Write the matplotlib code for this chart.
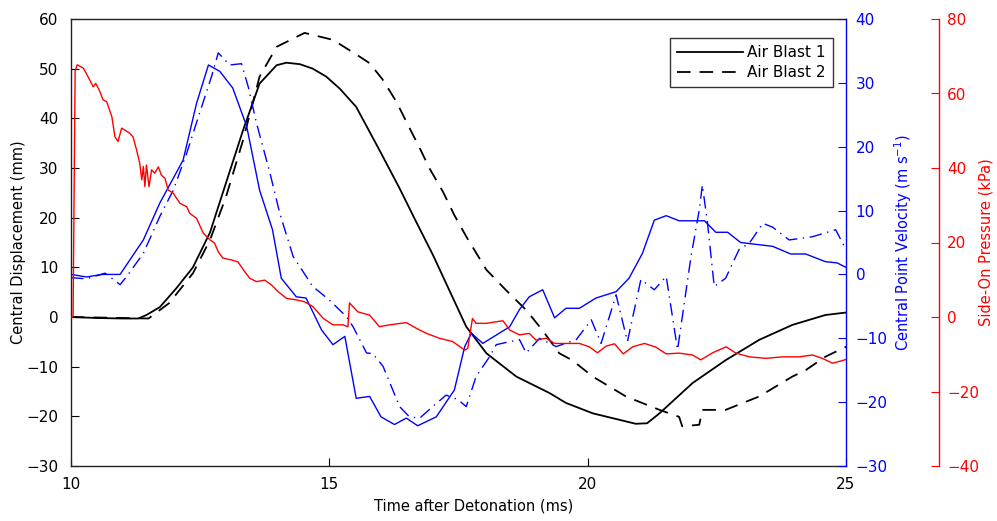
import matplotlib
matplotlib.use("Agg")
import matplotlib.pyplot as plt
from matplotlib.lines import Line2D

plt.rcParams['font.family'] = ['DejaVu Sans']

# ---- Data ----
# Central displacement, Air Blast 1 (mm)
t_d1 = [10.0, 10.5, 11.0, 11.3, 11.46, 11.72, 12.04, 12.36, 12.69, 13.0, 13.33, 13.65, 13.98, 14.17,
        14.43, 14.68, 14.94, 15.2, 15.52, 15.97, 16.36, 16.65, 17.0, 17.65, 18.04, 18.62,
        19.26, 19.58, 20.1, 20.93, 21.15, 21.39, 22.03, 22.67, 23.32, 23.96, 24.6, 25.0]
d1 = [0.0, -0.2, -0.3, -0.3, 0.4, 2.0, 5.8, 10.0, 17.0, 27.0, 37.6, 47.0, 50.7, 51.2,
      50.9, 50.0, 48.4, 46.0, 42.3, 33.6, 25.9, 19.8, 12.6, -1.95, -7.3, -12.0,
      -15.3, -17.3, -19.4, -21.5, -21.4, -19.4, -13.3, -8.7, -4.6, -1.6, 0.4, 0.9]

# Central displacement, Air Blast 2 (mm)
t_d2 = [10.0, 11.0, 11.5, 11.9, 12.36, 12.69, 13.0, 13.33, 13.65, 13.98, 14.52, 15.07,
        15.33, 15.59, 15.78, 16.04, 16.3, 16.52, 16.75, 16.94, 17.2, 17.42, 17.65, 18.04,
        18.42, 18.81, 19.12, 19.45, 19.7, 20.1, 20.74, 21.39, 21.77, 21.83, 22.16, 22.22,
        22.67, 23.32, 23.96, 24.22, 24.6, 25.0]
d2 = [0.0, -0.2, -0.3, 2.8, 8.8, 15.5, 24.2, 35.6, 48.4, 54.4, 57.2, 55.8,
      54.1, 52.4, 51.1, 47.7, 43.3, 38.7, 34.0, 29.9, 25.2, 20.5, 16.2, 9.5,
      5.4, 1.4, -2.6, -7.3, -8.7, -12.0, -16.0, -18.7, -20.1, -22.0, -21.7, -18.7,
      -18.7, -16.0, -12.0, -10.7, -8.0, -6.0]

# Central point velocity, Air Blast 1 (m/s)
t_v1 = [10.0, 10.3, 10.6, 10.95, 11.4, 11.72, 12.17, 12.43, 12.66, 12.88, 13.13, 13.4,
        13.65, 13.9, 14.07, 14.36, 14.55, 14.85, 15.07, 15.3, 15.52, 15.78, 16.0, 16.26,
        16.49, 16.71, 17.07, 17.42, 17.62, 17.75, 17.97, 18.29, 18.49, 18.68, 18.87, 19.13,
        19.36, 19.58, 19.84, 20.16, 20.55, 20.8, 21.06, 21.29, 21.52, 21.77, 22.26, 22.48,
        22.71, 22.96, 23.58, 23.93, 24.22, 24.6, 24.83, 25.0]
v1 = [0.0, -0.4, 0.0, 0.0, 5.4, 11.2, 17.9, 26.8, 32.8, 31.8, 29.2, 23.2,
      13.2, 7.0, -0.6, -3.5, -3.7, -8.7, -11.0, -9.7, -19.4, -19.1, -22.3, -23.5,
      -22.5, -23.7, -22.3, -18.1, -11.3, -9.2, -10.8, -9.2, -8.2, -5.5, -3.5, -2.4,
      -6.8, -5.3, -5.3, -3.7, -2.7, -0.6, 3.3, 8.5, 9.2, 8.4, 8.4, 6.6,
      6.6, 5.0, 4.4, 3.2, 3.2, 2.0, 1.8, 1.1]

# Central point velocity, Air Blast 2 (m/s)
t_v2 = [10.0, 10.3, 10.66, 10.95, 11.08, 11.4, 11.72, 11.98, 12.24, 12.49, 12.72, 12.85,
        13.07, 13.3, 13.43, 13.59, 13.85, 14.04, 14.3, 14.43, 14.68, 15.0, 15.33, 15.46,
        15.72, 15.84, 16.04, 16.36, 16.55, 16.75, 17.0, 17.26, 17.49, 17.65, 17.84, 18.1,
        18.23, 18.68, 18.81, 19.07, 19.39, 19.78, 20.07, 20.26, 20.55, 20.77, 21.03, 21.29,
        21.52, 21.74, 22.0, 22.16, 22.22, 22.32, 22.45, 22.67, 22.93, 23.13, 23.39, 23.58,
        23.9, 24.35, 24.8, 25.0]
v2 = [-0.5, -0.7, 0.2, -1.6, -0.3, 3.3, 9.1, 13.2, 19.0, 25.3, 31.0, 34.7,
      32.8, 33.0, 29.4, 23.7, 15.9, 9.6, 2.8, 1.2, -1.9, -4.0, -6.6, -8.2,
      -12.3, -12.4, -14.4, -20.7, -22.3, -22.5, -20.7, -18.9, -19.6, -20.7, -16.0, -12.9,
      -11.0, -10.2, -12.3, -10.0, -11.3, -10.2, -7.1, -10.8, -3.2, -10.5, -0.8, -2.4,
      -0.3, -11.8, 2.8, 10.1, 14.0, 8.0, -1.9, -0.6, 3.9, 4.9, 8.0, 7.4,
      5.4, 5.9, 7.0, 3.9]

# Side-on pressure (kPa)
t_p = [10.0, 10.04, 10.08, 10.12, 10.24, 10.33, 10.43, 10.48, 10.56, 10.62, 10.69, 10.79,
       10.85, 10.91, 10.98, 11.04, 11.14, 11.2, 11.27, 11.33, 11.37, 11.4, 11.43, 11.46,
       11.51, 11.56, 11.62, 11.69, 11.75, 11.82, 11.88, 11.98, 12.11, 12.24, 12.3, 12.43,
       12.56, 12.69, 12.78, 12.85, 12.94, 13.11, 13.23, 13.36, 13.46, 13.59, 13.75, 13.88,
       14.01, 14.17, 14.36, 14.52, 14.68, 14.88, 15.07, 15.26, 15.36, 15.39, 15.55, 15.78,
       15.97, 16.17, 16.49, 16.68, 16.88, 17.13, 17.39, 17.62, 17.68, 17.77, 17.84, 18.04,
       18.36, 18.49, 18.68, 18.87, 19.0, 19.2, 19.36, 19.58, 19.84, 20.03, 20.19, 20.36,
       20.52, 20.69, 20.87, 21.1, 21.32, 21.52, 21.77, 22.03, 22.19, 22.42, 22.68, 22.87,
       23.13, 23.45, 23.77, 24.09, 24.35, 24.54, 24.74, 24.93, 25.0]
p = [0.0, 0.0, 66.0, 67.7, 66.8, 64.5, 61.8, 62.7, 60.5, 58.3, 57.8, 53.8,
     48.4, 47.1, 50.7, 50.2, 49.3, 48.4, 44.8, 41.3, 36.8, 40.4, 35.0, 40.8,
     35.0, 39.5, 38.6, 40.3, 38.1, 37.2, 34.1, 33.2, 30.5, 29.6, 27.8, 26.5,
     22.5, 20.7, 19.8, 17.5, 15.8, 15.3, 14.8, 12.2, 10.4, 9.5, 9.9, 8.6,
     6.8, 5.0, 4.6, 4.1, 2.8, -0.35, -2.1, -2.1, -2.6, 3.8, 1.4, 0.5,
     -2.6, -2.1, -1.5, -3.0, -4.4, -5.7, -6.6, -8.9, -8.4, -0.4, -1.7, -1.7,
     -1.0, -3.5, -4.8, -4.4, -6.2, -5.7, -7.1, -7.1, -7.1, -8.0, -9.6, -7.8,
     -7.2, -9.9, -8.0, -7.1, -8.1, -9.9, -9.7, -10.2, -11.5, -9.6, -8.0, -9.7,
     -10.7, -11.1, -10.7, -10.7, -10.2, -11.1, -12.4, -11.7, -11.4]

x_ticks = [10, 15, 20, 25]
disp_ticks = list(range(-30, 61, 10))
vel_ticks = list(range(-30, 41, 10))
pres_ticks = list(range(-40, 81, 20))

BLUE = '#0000ff'
RED = '#ff0000'

fig = plt.figure(figsize=(9.97, 5.21), dpi=100)
ax1 = fig.add_axes([71/997, 55/521, 775/997, 447/521])
ax2 = ax1.twinx()
ax3 = ax1.twinx()

# black displacement
ax1.plot(t_d1, d1, color='black', lw=1.3, label='Air Blast 1')
ax1.plot(t_d2, d2, color='black', lw=1.3, linestyle=(0, (7.5, 5)), label='Air Blast 2')
ax1.set_xlim(10, 25)
ax1.set_ylim(-30, 60)
ax1.set_xticks(x_ticks)
ax1.set_yticks(disp_ticks)
ax1.tick_params(direction='in', length=6, width=0.8, labelsize=11, pad=8)
ax1.tick_params(axis='y', pad=9)
for s in ['left', 'bottom', 'top']:
    ax1.spines[s].set_color('#222222')
    ax1.spines[s].set_linewidth(1.0)
ax1.spines['right'].set_visible(False)
ax1.set_xlabel('Time after Detonation (ms)', fontsize=10.5)
ax1.set_ylabel('Central Displacement (mm)', fontsize=10.5)
ax1.xaxis.set_label_coords(0.519, -0.072)
ax1.yaxis.set_label_coords(-0.058, 0.5)

# blue velocity
ax2.plot(t_v1, v1, color=BLUE, lw=1.0)
ax2.plot(t_v2, v2, color=BLUE, lw=1.0, linestyle=(0, (9, 4, 1, 4)))
ax2.set_ylim(-30, 40)
ax2.set_yticks(vel_ticks)
ax2.tick_params(axis='y', direction='in', length=6, width=0.8, colors=BLUE, labelsize=11, pad=7)
for s in ['left', 'bottom', 'top']:
    ax2.spines[s].set_visible(False)
ax2.spines['right'].set_color(BLUE)
ax2.spines['right'].set_linewidth(1.0)
ax2.set_ylabel('Central Point Velocity (m s$^{-1}$)', fontsize=10.5, color=BLUE)
ax2.yaxis.set_label_coords(1.06, 0.5)

# red pressure
ax3.spines['right'].set_position(('axes', (939 - 71) / 775))
ax3.plot(t_p, p, color=RED, lw=1.0)
ax3.set_ylim(-40, 80)
ax3.set_yticks(pres_ticks)
ax3.tick_params(axis='y', direction='in', length=6, width=0.8, colors=RED, labelsize=11, pad=6)
for s in ['left', 'bottom', 'top']:
    ax3.spines[s].set_visible(False)
ax3.spines['right'].set_color(RED)
ax3.spines['right'].set_linewidth(1.0)
ax3.set_ylabel('Side-On Pressure (kPa)', fontsize=10.5, color=RED)
ax3.yaxis.set_label_coords(1.171, 0.5)

handles = [Line2D([], [], color='black', lw=1.3),
           Line2D([], [], color='black', lw=1.3, linestyle=(0, (7.5, 5)))]
leg = ax3.legend(handles, ['Air Blast 1', 'Air Blast 2'], loc='upper right',
                 bbox_to_anchor=(0.983, 0.9575), borderaxespad=0, fontsize=11,
                 fancybox=False, framealpha=1, edgecolor='#333333',
                 handlelength=4.3, handletextpad=0.3, labelspacing=0.35,
                 borderpad=0.45)
leg.get_frame().set_linewidth(1.0)

fig.savefig('out.png', dpi=100)
